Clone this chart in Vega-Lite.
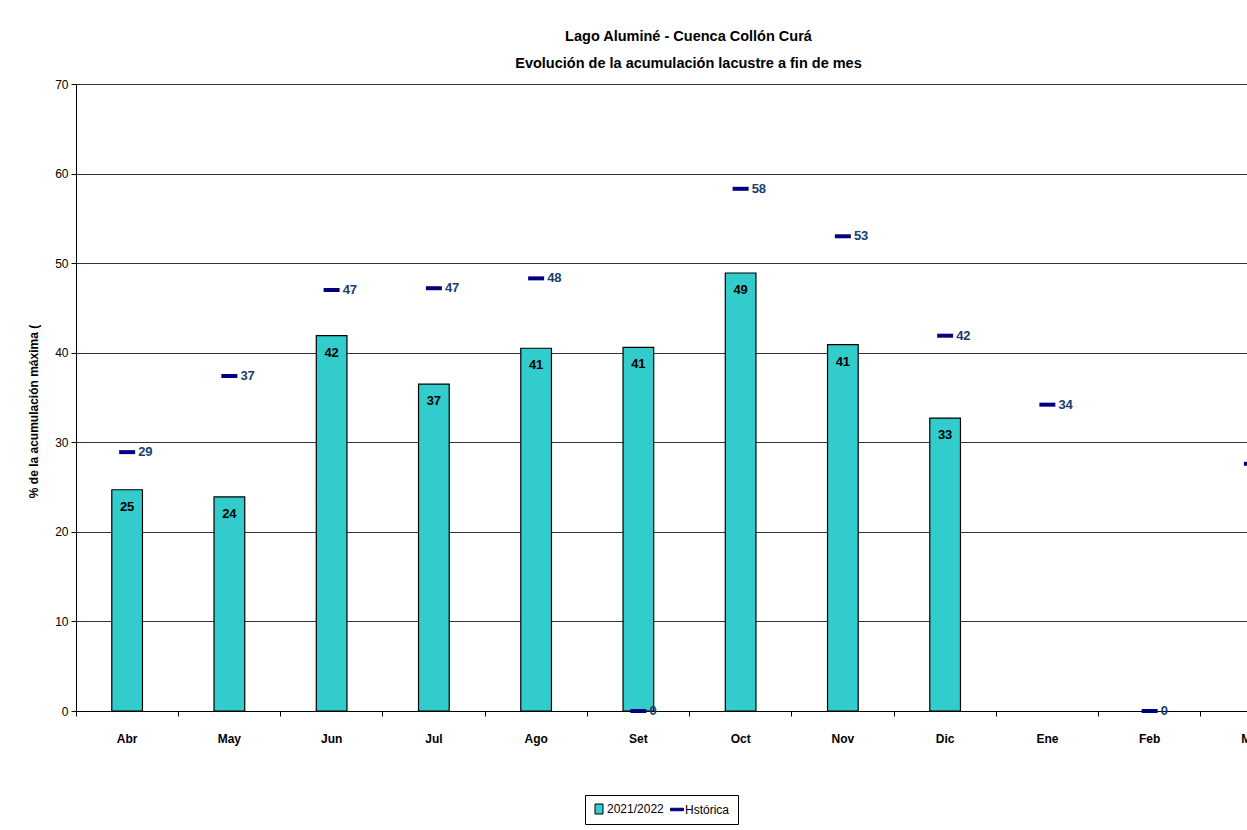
{
  "$schema": "https://vega.github.io/schema/vega-lite/v6.json",
  "width": 1171,
  "height": 627,
  "autosize": {"type": "none"},
  "padding": {"left": 76, "top": 84, "right": 0, "bottom": 119},
  "background": "white",
  "title": {
    "text": ["Lago Aluminé - Cuenca Collón Curá", "Evolución de la acumulación lacustre a fin de mes"],
    "anchor": "middle",
    "dx": 27,
    "offset": 7,
    "font": "Liberation Sans",
    "fontSize": 14.5,
    "fontWeight": "bold",
    "lineHeight": 27,
    "color": "black"
  },
  "config": {
    "view": {"stroke": null},
    "font": "Liberation Sans",
    "axis": {
      "domainColor": "black",
      "tickColor": "black",
      "labelColor": "black",
      "titleColor": "black",
      "labelFont": "Liberation Sans",
      "titleFont": "Liberation Sans"
    }
  },
  "data": {
    "values": [
      {"mes": "Abr", "v": 24.7, "h": 28.9},
      {"mes": "May", "v": 23.9, "h": 37.4},
      {"mes": "Jun", "v": 41.9, "h": 47.0},
      {"mes": "Jul", "v": 36.5, "h": 47.2},
      {"mes": "Ago", "v": 40.5, "h": 48.3},
      {"mes": "Set", "v": 40.6, "h": 0},
      {"mes": "Oct", "v": 48.9, "h": 58.3},
      {"mes": "Nov", "v": 40.9, "h": 53.0},
      {"mes": "Dic", "v": 32.7, "h": 41.9},
      {"mes": "Ene", "v": null, "h": 34.2},
      {"mes": "Feb", "v": null, "h": 0},
      {"mes": "Mar", "v": null, "h": 27.6}
    ]
  },
  "encoding": {
    "x": {
      "field": "mes",
      "type": "nominal",
      "sort": null,
      "scale": {"range": [0, 1227], "paddingInner": 0, "paddingOuter": 0},
      "axis": {
        "title": null,
        "labelAngle": 0,
        "bandPosition": 0,
        "tickSize": 5,
        "labelFontSize": 12,
        "labelFontWeight": "bold",
        "labelPadding": 17,
        "grid": false,
        "domainWidth": 1
      }
    }
  },
  "layer": [
    {
      "mark": {"type": "bar", "stroke": "black", "strokeWidth": 1.2, "width": {"band": 0.3}},
      "encoding": {
        "y": {
          "field": "v",
          "type": "quantitative",
          "scale": {"domain": [0, 70], "nice": false},
          "axis": {
            "title": "% de la acumulación máxima (",
            "titleFontSize": 12,
            "titleFontWeight": "bold",
            "titlePadding": 14,
            "titleY": 327,
            "values": [0, 10, 20, 30, 40, 50, 60, 70],
            "labelFontSize": 12,
            "labelPadding": 3,
            "tickSize": 5,
            "grid": true,
            "gridColor": "#333333",
            "gridWidth": 1
          }
        },
        "color": {
          "datum": "2021/2022",
          "scale": {"domain": ["2021/2022", "Hstórica"], "range": ["#33CCCC", "#000080"]},
          "legend": {
            "title": null,
            "orient": "none",
            "legendX": 509,
            "legendY": 711,
            "direction": "horizontal",
            "strokeColor": "black",
            "fillColor": "white",
            "padding": 8,
            "labelFontSize": 12,
            "labelFont": "Liberation Sans",
            "labelColor": "black",
            "labelOffset": 2,
            "columnPadding": 4,
            "symbolSize": 100,
            "symbolOpacity": 1,
            "symbolType": {"expr": "datum.value === '2021/2022' ? 'M-0.8,-1H0.8V1H-0.8Z' : 'M-1.3,-0.25H1.3V0.25H-1.3Z'"},
            "symbolStrokeColor": {"expr": "datum.value === '2021/2022' ? 'black' : '#000080'"},
            "symbolStrokeWidth": 1
          }
        }
      }
    },
    {
      "mark": {"type": "text", "baseline": "middle", "dy": 17, "fontSize": 13, "fontWeight": "bold", "color": "black", "font": "Liberation Sans"},
      "encoding": {
        "y": {"field": "v", "type": "quantitative"},
        "text": {"field": "v", "type": "quantitative", "format": ".0f"}
      }
    },
    {
      "mark": {"type": "tick", "size": 16, "thickness": 4, "opacity": 1},
      "encoding": {
        "y": {"field": "h", "type": "quantitative"},
        "color": {"datum": "Hstórica"}
      }
    },
    {
      "mark": {"type": "text", "baseline": "middle", "align": "left", "dx": 11, "fontSize": 13, "fontWeight": "bold", "color": "#17406D", "font": "Liberation Sans"},
      "encoding": {
        "y": {"field": "h", "type": "quantitative"},
        "text": {"field": "h", "type": "quantitative", "format": ".0f"}
      }
    }
  ]
}
